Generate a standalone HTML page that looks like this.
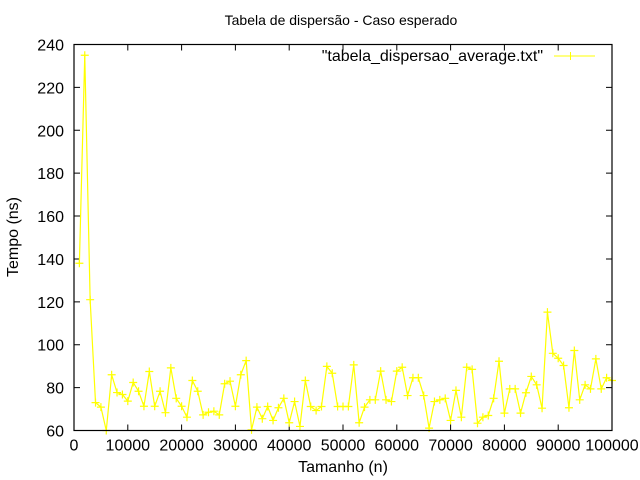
<!DOCTYPE html>
<html><head><meta charset="utf-8">
<style>
body{margin:0;background:#fff;}
svg{display:block;font-family:"Liberation Sans",sans-serif;}
</style></head>
<body>
<svg id="chart" width="640" height="480" viewBox="0 0 640 480" xmlns="http://www.w3.org/2000/svg">
<rect x="0" y="0" width="640" height="480" fill="#fff"/>
<text x="341" y="25" font-size="14" text-anchor="middle" fill="#000">Tabela de dispersão - Caso esperado</text>
<g id="axes"></g>
<g id="series"></g>
<rect x="74" y="44.5" width="538" height="386" fill="none" stroke="#000" stroke-width="1.2"/>
<text x="343" y="472" font-size="16" text-anchor="middle" fill="#000">Tamanho (n)</text>
<text x="18" y="237" font-size="16" text-anchor="middle" fill="#000" transform="rotate(-90 18 237)">Tempo (ns)</text>
<g>
<text x="543" y="61" font-size="16" text-anchor="end" fill="#000">"tabela_dispersao_average.txt"</text>
<line x1="554" y1="56" x2="595" y2="56" stroke="#ffff00" stroke-width="1"/>
<path d="M570.5 52V60M566.5 56H574.5" stroke="#ffff00" stroke-width="1"/>
</g>
</svg>
<script>
const yValues = [138,235,121,73,70.9,60,86,77.7,76.8,73.7,82.4,78.3,71.3,87.5,71.3,78.3,68.3,89.2,75,71.3,66.2,83.3,78.3,67.3,68.5,69,67.3,81.8,83,71.3,86,92.6,60.3,70.9,
65.5,71.2,64.7,70.6,75,63.6,73.5,61.9,83.3,71.2,69.3,71.2,89.9,86.7,71.2,71.2,71.2,90.6,63.6,70.9,74.3,74.3,87.7,74.3,73.5,87.7,89.5,76.3,84.6,84.6,76.3,61.1,73.5,74.3,
75,64.7,78.7,66.2,89.5,88.5,63.4,66.2,67,75,92.3,68.1,79.4,79.4,68.1,77.6,85.2,81.3,70.4,115.2,96,93.7,90.3,70.6,97.3,74.3,81.3,79.4,93.4,79.4,84.6,83.3];
const xValues = yValues.map((_, i) => 1000 * (i + 1));
const xTicks = [0,10000,20000,30000,40000,50000,60000,70000,80000,90000,100000];
const yTicks = [60,80,100,120,140,160,180,200,220,240];

const X0=74,X1=612,Y0=430.5,Y1=44.5;
const xs = v => X0 + (v - 0) / 100000 * (X1 - X0);
const ys = v => Y0 - (v - 60) / 180 * (Y0 - Y1);
const NS="http://www.w3.org/2000/svg";
const axes=document.getElementById('axes');
const series=document.getElementById('series');
function mk(tag, attrs, parent){const e=document.createElementNS(NS,tag);for(const k in attrs)e.setAttribute(k,attrs[k]);parent.appendChild(e);return e;}

xTicks.forEach(t=>{
  const x=xs(t);
  const l=mk('path',{d:`M${x} ${Y0}v-6M${x} ${Y1}v6`,stroke:'#000','stroke-width':1},axes);
  
  
  const tx=mk('text',{x:x,y:Y0+20,'font-size':16,'text-anchor':'middle',fill:'#000'},axes);
  tx.textContent=t;
  
  
});
yTicks.forEach(t=>{
  const y=ys(t);
  const l=mk('path',{d:`M${X0} ${y}h6M${X1} ${y}h-6`,stroke:'#000','stroke-width':1},axes);
  
  
  const tx=mk('text',{x:64,y:y+6,'font-size':16,'text-anchor':'end',fill:'#000'},axes);
  tx.textContent=t;
  
  
});

const pts=yValues.map((v,i)=>[xs(xValues[i]),ys(v)]);
const line=mk('polyline',{points:pts.map(p=>p.join(',')).join(' '),fill:'none',stroke:'#ffff00','stroke-width':1.2},series);


pts.forEach(p=>{
  const m=mk('path',{d:`M${p[0]} ${p[1]-4}v8M${p[0]-4} ${p[1]}h8`,stroke:'#ffff00','stroke-width':1.2},series);
  
  
});
</script>
</body></html>
